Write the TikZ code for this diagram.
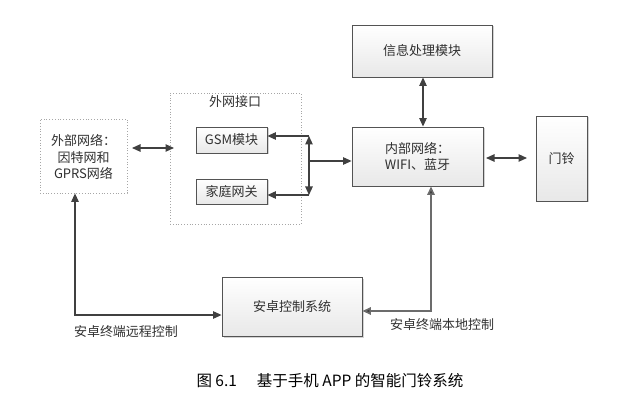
\documentclass[tikz,border=0pt]{standalone}
\usepackage{fontspec}
\setmainfont{Noto Sans CJK SC}
\usetikzlibrary{arrows.meta,shadows,calc}
\definecolor{ln}{HTML}{404040}
\definecolor{tx}{HTML}{303030}
\tikzset{
  box/.style={draw=ln!90, line width=0.9pt, top color=white, bottom color=gray!18,
    drop shadow={shadow xshift=1.5pt, shadow yshift=-1.5pt, opacity=0.35, fill=gray},
    inner sep=0pt, text=tx, font=\fontsize{13}{16}\selectfont, align=center},
  dotbox/.style={draw=gray!70, dotted, line width=0.8pt, inner sep=0pt},
  arr/.style={draw=ln, line width=1.1pt, -{Triangle[length=8.5pt,width=7.5pt]}},
  darr/.style={draw=ln, line width=1.1pt, {Triangle[length=8.5pt,width=7.5pt]}-{Triangle[length=8.5pt,width=7.5pt]}},
  garr/.style={draw=gray!85!black, line width=1.6pt, {Triangle[length=8.5pt,width=7.5pt,fill=ln]}-{Triangle[length=8.5pt,width=7.5pt,fill=ln]}},
  lbl/.style={text=tx, font=\fontsize{13}{16}\selectfont, inner sep=0pt},
}
\begin{document}
\begin{tikzpicture}[x=1pt,y=-1pt]
\useasboundingbox (0,0) rectangle (635,401);
% dotted boxes
\node[dotbox, minimum width=87pt, minimum height=74pt] (ext) at (83.5,156) {};
\node[lbl, align=center, font=\fontsize{13}{16.5}\selectfont] (extt) at (83.5,157) {外部网络：\\ 因特网和\\ GPRS网络};
\node[dotbox, minimum width=131pt, minimum height=131pt] (ifc) at (235.5,158.5) {};
\node[lbl] (ifct) at (235,102) {外网接口};
% solid boxes
\node[box, minimum width=71pt, minimum height=26pt] (gsm) at (231.5,140) {GSM模块};
\node[box, minimum width=71pt, minimum height=25pt] (home) at (231.5,191.5) {家庭网关};
\node[box, minimum width=140pt, minimum height=52pt] (info) at (422,51) {信息处理模块};
\node[box, minimum width=131pt, minimum height=59pt] (inner) at (417.5,156.5) {内部网络：\\ WIFI、蓝牙};
\node[box, minimum width=51pt, minimum height=85pt] (bell) at (561.5,158.5) {门铃};
\node[box, minimum width=140pt, minimum height=59pt] (android) at (292,306.5) {安卓控制系统};
% coordinates
\coordinate (bt) at (309,136);
\coordinate (bb) at (309,195);
\coordinate (bm) at (309,161);
\coordinate (a1) at (132,148);
\coordinate (a2) at (174,148);
\coordinate (c1) at (75,315);
\coordinate (c2) at (431,311);
\coordinate (d1) at (486,158);
\coordinate (d2) at (527,158);
% connectors
\draw[darr] (a1) -- (a2);
\draw[arr] (bt) -- (gsm.east |- bt);
\draw[arr] (bb) -- (home.east |- bb);
\draw[darr] (bt) -- (bb);
\draw[arr] (bm) -- (inner.west |- bm);
\draw[darr] (info.south -| 423,0) -- (inner.north -| 423,0);
\draw[darr] (d1) -- (d2);
\draw[darr] (ext.south -| c1) -- (c1) -- (android.west |- c1);
\draw[garr] (android.east |- c2) -- (c2) -- (inner.south -| c2);
% labels
\node[lbl] (l1) at (126,332) {安卓终端远程控制};
\node[lbl] (l2) at (442,325) {安卓终端本地控制};
\node[lbl, font=\fontsize{15.5}{17}\selectfont, text=black] (cap) at (330,381) {图 6.1\hspace{20pt}基于手机 APP 的智能门铃系统};
\end{tikzpicture}
\end{document}
